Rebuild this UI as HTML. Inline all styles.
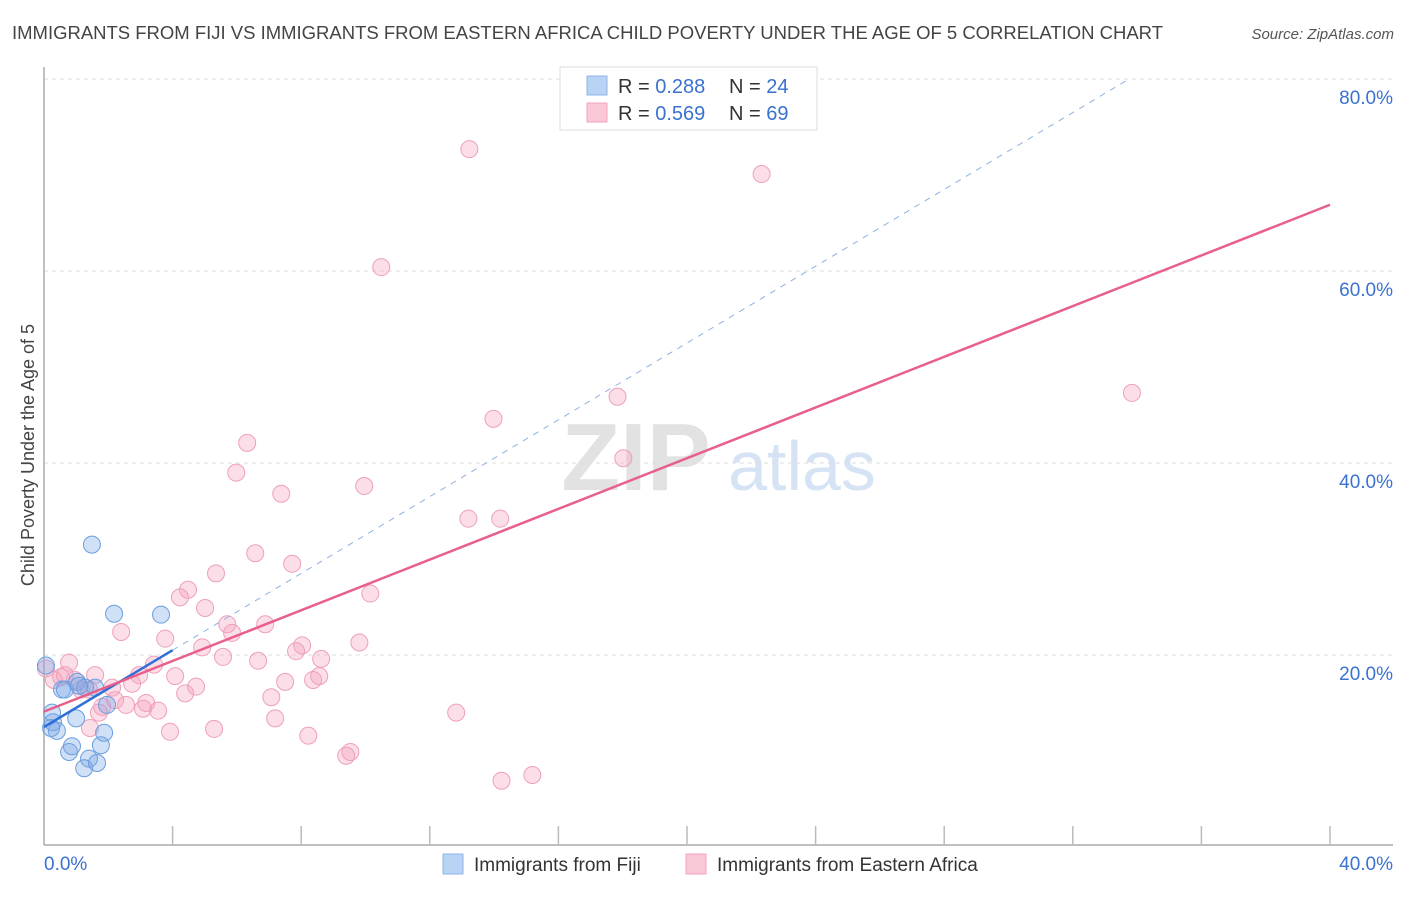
<!DOCTYPE html>
<html><head><meta charset="utf-8"><style>
body{margin:0;background:#fff;width:1406px;height:892px;overflow:hidden;font-family:"Liberation Sans",sans-serif}
svg text{font-family:"Liberation Sans",sans-serif}
</style></head><body>
<svg id="chart" width="1406" height="892" xmlns="http://www.w3.org/2000/svg">
<text x="12" y="39" font-size="18" fill="#444" textLength="1151" lengthAdjust="spacingAndGlyphs">IMMIGRANTS FROM FIJI VS IMMIGRANTS FROM EASTERN AFRICA CHILD POVERTY UNDER THE AGE OF 5 CORRELATION CHART</text>
<text x="1394" y="39" font-size="15" fill="#555" font-style="italic" text-anchor="end">Source: ZipAtlas.com</text>
<text transform="translate(34,455) rotate(-90)" font-size="18" fill="#444" text-anchor="middle">Child Poverty Under the Age of 5</text>
<g>
<text x="636" y="490" font-size="96" fill="#e2e2e2" font-family="Liberation Serif" text-anchor="middle" font-weight="bold">ZIP</text>
<text x="802" y="490" font-size="70" fill="#d5e3f5" text-anchor="middle">atlas</text>
</g>
<g id="grid"></g><g id="axes"></g><g id="marks"></g>
<g>
<rect x="560" y="67" width="257" height="63" fill="#fff" stroke="#ddd"/>
<rect x="587" y="76" width="20" height="19" fill="#b8d3f5" stroke="#8fb5e8"/>
<rect x="587" y="103" width="20" height="19" fill="#fbc8d6" stroke="#f0a5bd"/>
<text x="618" y="93" font-size="20" fill="#333">R = <tspan fill="#3a72d0">0.288</tspan></text>
<text x="729" y="93" font-size="20" fill="#333">N = <tspan fill="#3a72d0">24</tspan></text>
<text x="618" y="120" font-size="20" fill="#333">R = <tspan fill="#3a72d0">0.569</tspan></text>
<text x="729" y="120" font-size="20" fill="#333">N = <tspan fill="#3a72d0">69</tspan></text>
</g>
<g>
<rect x="443" y="854" width="20" height="20" fill="#b8d3f5" stroke="#8fb5e8"/>
<text x="474" y="871" font-size="19" fill="#333">Immigrants from Fiji</text>
<rect x="686" y="854" width="20" height="20" fill="#fbc8d6" stroke="#f0a5bd"/>
<text x="717" y="871" font-size="19" fill="#333">Immigrants from Eastern Africa</text>
</g>
</svg>
<script>
const fijiX=[1.49,2.18,3.64,0.06,0.56,0.65,1.03,1.28,1.59,1.96,0.25,0.28,0.40,1.0,0.78,0.87,1.40,1.25,1.65,1.77,1.87,0.22,1.09];
const fijiY=[31.5,24.3,24.2,18.9,16.4,16.4,17.2,16.6,16.6,14.8,14.0,13.0,12.1,13.4,9.9,10.5,9.2,8.2,8.75,10.6,11.9,12.4,16.8];
const eaX=[13.23,22.32,10.49,17.84,33.84,13.98,6.32,18.02,5.98,9.96,7.38,13.20,14.19,6.57,7.72,5.35,4.48,4.23,10.15,5.01,2.40,5.70,6.88,5.85,3.77,8.03,9.81,4.92,7.84,8.62,5.57,6.66,0.06,0.78,3.42,2.96,4.08,1.59,0.53,0.96,8.56,7.50,8.37,2.74,4.39,4.73,2.12,1.15,7.07,2.21,3.18,2.55,3.55,3.08,1.81,1.71,12.82,7.19,1.43,3.92,5.29,8.22,9.53,9.40,15.19,14.23,0.31,0.65,1.40];
const eaY=[72.7,70.1,60.4,46.9,47.3,44.6,42.1,40.5,39.0,37.6,36.8,34.2,34.2,30.6,29.5,28.5,26.8,26.0,26.4,24.9,22.4,23.2,23.2,22.3,21.7,21.0,21.3,20.8,20.4,19.6,19.8,19.4,18.6,19.2,19.0,17.9,17.8,17.9,17.7,17.4,17.8,17.2,17.4,17.0,16.0,16.7,16.6,16.4,15.6,15.3,15.0,14.8,14.2,14.4,14.6,14.0,14.0,13.4,12.4,12.0,12.3,11.6,9.9,9.5,7.5,6.9,17.4,17.9,16.4];
const yTicks=[20,40,60,80];
const yTickLabels=["20.0%","40.0%","60.0%","80.0%"];
const xTicks=[0,4,8,12,16,20,24,28,32,36,40];
const fijiLine=[12.5,20.5]; // y at x=0 and x=4
const eaLine=[14.1,66.9]; // y at x=0 and x=40
const NS="http://www.w3.org/2000/svg";
const sx=v=>44+v*32.15, sy=v=>847-v*9.6;
function mk(tag,attrs,parent){const e=document.createElementNS(NS,tag);for(const k in attrs)e.setAttribute(k,attrs[k]);document.getElementById(parent).appendChild(e);return e;}
yTicks.forEach((t,i)=>{
 const g=mk('line',{x1:44,x2:1393,y1:sy(t),y2:sy(t),stroke:'#ddd','stroke-dasharray':'4,4'},'grid');
 
 
 const l=mk('text',{x:1393,y:sy(t)+25,'font-size':19,fill:'#3a72d0','text-anchor':'end'},'axes');
 l.textContent=yTickLabels[i];
 
 
});
const ax=mk('line',{x1:44,x2:1393,y1:845,y2:845,stroke:'#aaa','stroke-width':1.5},'axes');


const ay=mk('line',{x1:44,x2:44,y1:67,y2:845,stroke:'#aaa','stroke-width':1.5},'axes');


xTicks.forEach(t=>{if(t===0)return;
 const k=mk('line',{x1:sx(t),x2:sx(t),y1:826,y2:845,stroke:'#bbb','stroke-width':1.5},'axes');
 
 });
const xl0=mk('text',{x:44,y:870,'font-size':19,fill:'#3a72d0'},'axes');xl0.textContent=xTicks[0].toFixed(1)+'%';


const xl1=mk('text',{x:1393,y:870,'font-size':19,fill:'#3a72d0','text-anchor':'end'},'axes');xl1.textContent=xTicks[xTicks.length-1].toFixed(1)+'%';


eaX.forEach((x,i)=>{const c=mk('circle',{cx:sx(x),cy:sy(eaY[i]),r:8.5,fill:'rgba(244,160,188,0.35)',stroke:'#eea0ba','stroke-width':1},'marks');
 
 });
fijiX.forEach((x,i)=>{const c=mk('circle',{cx:sx(x),cy:sy(fijiY[i]),r:8.5,fill:'rgba(120,165,230,0.35)',stroke:'#6a9ee0','stroke-width':1},'marks');
 
 });
const slope=(fijiLine[1]-fijiLine[0])/4;
const xEnd=(80-fijiLine[0])/slope;
const fd=mk('line',{x1:sx(4),y1:sy(fijiLine[1]),x2:sx(xEnd),y2:sy(80),stroke:'#8fb0e0','stroke-width':1,'stroke-dasharray':'6,6'},'marks');


const fl=mk('line',{x1:sx(0),y1:sy(fijiLine[0]),x2:sx(4),y2:sy(fijiLine[1]),stroke:'#2f6fd6','stroke-width':2.5},'marks');


const el=mk('line',{x1:sx(0),y1:sy(eaLine[0]),x2:sx(40),y2:sy(eaLine[1]),stroke:'#e8608a','stroke-width':2.5},'marks');


</script>
</body></html>
